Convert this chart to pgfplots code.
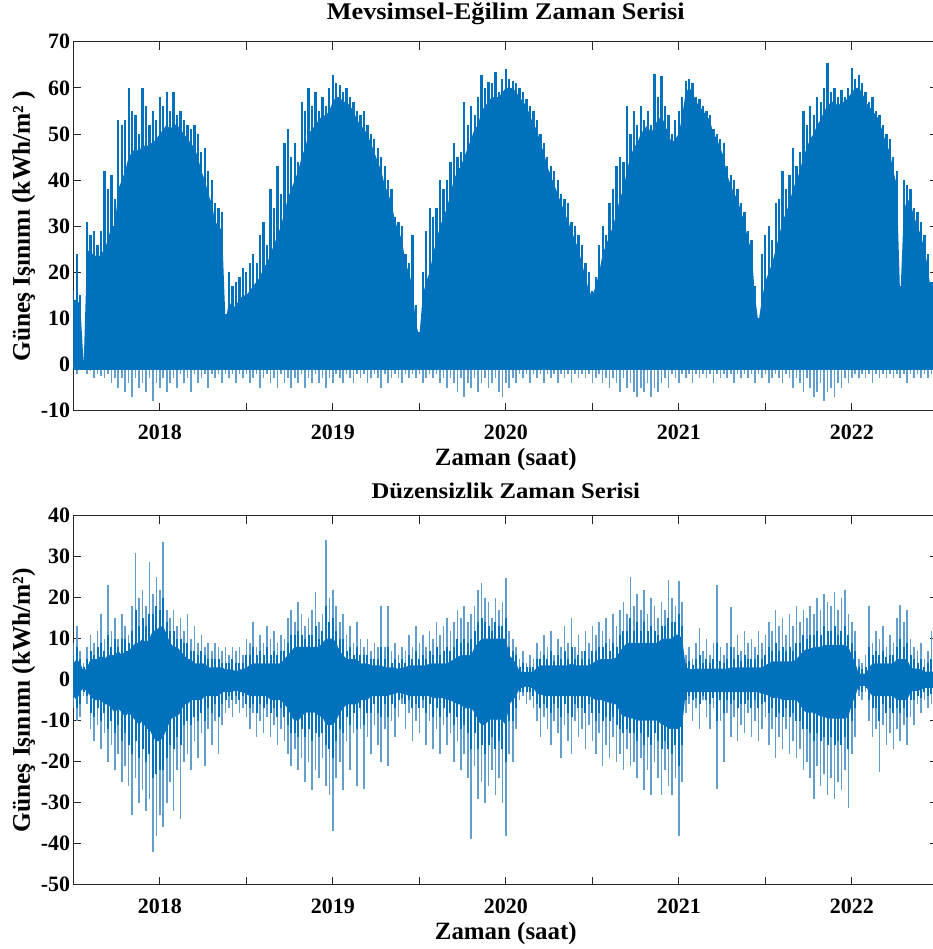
\documentclass[border=0pt]{standalone}
\usepackage{fontspec}
\setmainfont{Liberation Serif}
\newfontfamily\titlefam[FakeStretch=1.1]{Liberation Serif}
\usepackage{pgfplots}
\usepackage{pgfplotstable}
\pgfplotsset{compat=1.18}

\definecolor{mblue}{RGB}{0,114,189}
\definecolor{lblue}{RGB}{98,158,206}
\definecolor{axgray}{RGB}{38,38,38}

% x = (year - 2017) * 100
\pgfplotstableread{
X top core neg
50 16 14 -1
52 24 14 -2
54 15 13 -1
56 1 0 -1
58 31 25 -2
60 28 24 -1.5
62 29 24 -3
64 26 23 -2
66 29 24 -2.5
68 42 25 -3
70 38 27 -2
72 41 30 -4
74 36 30 -3
76 53 38 -5
78 52 40 -3
80 53 42 -6
82 60 45 -4
84 55 46 -7
86 54 47 -3
88 50 46 -5
90 60 48 -4
92 56 47 -6
94 52 48 -3
96 55 48 -8
98 53 49 -4
100 58 50 -5
102 56 51 -3
104 59 52 -6
106 55 51 -4
108 59 52 -3
110 54 52 -5
112 55 51 -2
114 53 50 -4
116 52 49 -3
118 51 48 -6
120 52 47 -2
122 50 45 -4
124 46 42 -3
126 47 40 -2
128 42 37 -5
130 40 35 -2
132 35 31 -3
134 34 30 -2
136 33 29 -4
138 11 9 -2
140 20 14 -3
142 17 12 -2
144 18 13 -4
146 19 14 -2
148 21 15 -3
150 20 15 -2
152 22 16 -4
154 24 17 -3
156 22 18 -2
158 28 19 -5
160 31 21 -3
162 26 22 -2
164 38 24 -4
166 34 26 -3
168 43 28 -5
170 37 30 -2
172 48 33 -4
174 51 36 -3
176 45 38 -5
178 48 40 -3
180 44 42 -4
182 57 45 -2
184 55 47 -5
186 60 50 -3
188 56 51 -4
190 59 52 -2
192 55 53 -4
194 58 54 -3
196 56 54 -5
198 60 55 -3
200 62.8 57 -4
202 61 58 -2
204 60.6 58 -3
206 59 57 -4
208 60 57 -2
210 58 56 -3
212 57 55 -4
214 55 53 -2
216 54 52 -3
218 55 51 -2
220 52 50 -4
222 50 48 -3
224 49 46 -2
226 47 44 -3
228 45 42 -5
230 43 39 -2
232 40 37 -4
234 38 35 -3
236 32 31 -2
238 31 29 -3
240 30 27 -4
242 24 22 -2
244 22 20 -3
246 28 17 -2
248 13 9 -3
250 7 6 -2
252 20 15 -4
254 29 18 -3
256 34 20 -2
258 32 24 -3
260 34 27 -2
262 40 30 -4
264 38 32 -3
266 40 34 -5
268 44 37 -3
270 48 40 -4
272 45 42 -6
274 46 43 -3
276 57 45 -7
278 52 47 -4
280 56 49 -5
282 54 51 -3
284 58 52 -6
286 62.8 55 -4
288 60 56 -3
290 61.3 57 -5
292 61 58 -4
294 63.5 58 -3
296 59 58 -6
298 62 59 -7
300 64 60 -4
302 62 60 -5
304 61.5 60 -3
306 61 59 -4
308 60 58 -2
310 59 57 -3
312 57.5 56 -2
314 56 54 -4
316 55 52 -2
318 53 51 -3
320 50 48 -2
322 48 46 -4
324 45 43 -2
326 43 41 -3
328 42 39 -2
330 40 37 -4
332 37 35 -2
334 36 33 -3
336 35 31 -2
338 31 29 -4
340 30 27 -2
342 28 25 -3
344 26 22 -2
346 22 19 -3
348 20 16 -2
350 16 15 -4
352 19 17 -3
354 26 20 -2
356 30 24 -4
358 28 26 -3
360 35 28 -5
362 38 30 -3
364 43 33 -4
366 45 36 -6
368 44 38 -3
370 56 42 -5
372 50 45 -4
374 55 47 -6
376 52 48 -7
378 56 50 -5
380 53 51 -6
382 55 52 -4
384 52 50 -7
386 63 52 -5
388 58 53 -6
390 62.5 54 -4
392 56 52 -3
394 54 50 -5
396 50 48 -2
398 53 49 -3
400 55 50 -4
402 58 54 -2
404 61.5 59 -3
406 62 60 -2
408 61 59 -4
410 58 57 -2
412 57.5 56 -3
414 56 55 -2
416 55 54 -3
418 54 53 -2
420 51 50 -4
422 50 49 -2
424 49 47 -3
426 48 45 -2
428 43 41 -3
430 41 39 -2
432 40 37 -4
434 38 36 -2
436 35 33 -3
438 33 31 -2
440 29 27 -3
442 27 25 -2
444 17 15 -4
446 10 9 -2
448 24 14 -3
450 28 18 -2
452 30 20 -4
454 27 22 -3
456 35 25 -2
458 36 28 -3
460 42 31 -4
462 38 33 -2
464 41 35 -3
466 47 38 -5
468 43 40 -3
470 46 42 -4
472 55 45 -6
474 52 47 -3
476 56 49 -5
478 54 50 -7
480 58 52 -6
482 57 53 -4
484 60 55 -8
486 65.3 56 -6
488 59 57 -5
490 60 57 -7
492 58 56 -4
494 59.5 57 -5
496 58 57 -3
498 60 58 -4
500 64.2 59 -3
502 62 60 -2
504 62.7 60 -3
506 61 59 -2
508 59 57 -3
510 57 56 -2
512 58 55 -4
514 55 54 -2
516 54 53 -3
518 52 50 -2
520 50 48 -3
522 49 46 -2
524 45 42 -3
526 42 39 -2
528 17 14 -3
530 40 33 -2
532 39 36 -4
534 38 35 -2
536 34 32 -3
538 33 30 -2
540 31 28 -3
542 28 25 -2
544 24 21 -3
546 18 15 -2
548 14 12 -3
550 12 10 -2
}\seasonal

% up/dn: outer spikes, um/dm: darker mid spikes, upc/dnc: dense core
\pgfplotstableread{
X up um upc dnc dm dn
50 9 6 4 -4 -5 -7
52 13 8 5 -5 -7 -10
54 7 5 4 -3 -6 -9
56 4 3 2 -2 -3 -4
58 8 5 3 -3 -4 -6
60 11 7 5 -4 -8 -12
62 9 6 5 -5 -9 -15
64 12 8 5 -5 -7 -11
66 16 9 6 -5 -10 -17
68 10 7 5 -6 -8 -13
70 23 11 6 -6 -12 -20
72 12 8 6 -7 -10 -16
74 15 10 6 -8 -13 -22
76 10 8 7 -7 -11 -18
78 16 10 6 -8 -15 -25
80 13 10 7 -9 -13 -21
82 11 9 7 -8 -16 -26
84 18 12 8 -9 -18 -33
86 31 17 9 -10 -15 -24
88 20 13 9 -11 -19 -30
90 22 15 10 -10 -17 -27
92 18 13 9 -12 -20 -32
94 28.8 16 10 -12 -18 -29
96 21 16 12 -14 -24 -42
98 25 18 12 -15 -23 -38
100 22 17 13 -15 -22 -33
102 33.7 20 13 -14 -22 -36
104 17 14 11 -12 -19 -30
106 15 12 9 -10 -16 -25
108 17 12 8 -9 -17 -32
110 13 10 8 -9 -14 -22
112 15 10 7 -8 -16 -34
114 12 9 6 -6 -11 -20
116 16 9 5 -6 -10 -18
118 10 7 5 -5 -11 -22
120 13 7 4 -5 -9 -15
122 9 6 4 -5 -10 -19
124 11 7 4 -5 -8 -13
126 8 6 4 -4 -10 -21
128 9 5 3 -4 -7 -12
130 7 5 3 -4 -8 -16
132 9 5 3 -4 -6 -10
134 8 5 3 -4 -9 -18
136 7 4 3 -3 -6 -11
138 8 4 2.5 -3 -5 -8
140 6 4 2.5 -3 -4 -7
142 8 5 2.5 -3 -5 -9
144 7 4 2 -2.5 -4 -6
146 8 4 2.5 -3 -5 -8
148 6 4 2.5 -3 -4 -7
150 10 6 3 -3.5 -6 -9
152 9 6 3.5 -4 -7 -12
154 14 8 4 -4 -6 -8
156 8 6 4 -4 -8 -14
158 11 7 4 -4 -6 -10
160 9 6 4 -4 -7 -13
162 13 8 4 -4 -6 -9
164 10 6 4 -5 -8 -14
166 12 7 4 -5 -7 -11
168 9 6 4 -5 -9 -16
170 11 7 4 -5 -7 -12
172 10 7 5 -6 -9 -15
174 15 9 6 -7 -11 -18
176 17 11 7 -9 -13 -21
178 14 11 8 -10 -13 -17
180 19 12 8 -10 -14 -22
182 16 11 8 -9 -12 -19
184 13 10 8 -8 -14 -25
186 15 11 8 -8 -12 -20
188 17 11 8 -8 -15 -27
190 21.5 13 8 -8 -13 -22
192 14 10 8 -9 -14 -24
194 16 12 9 -9 -13 -19
196 34 18 10 -11 -16 -26
198 20 14 10 -11 -17 -28
200 22 15 10 -11 -19 -37
202 18 12 9 -10 -15 -24
204 14 10 7 -8 -12 -20
206 16 10 6 -7 -13 -27
208 11 7 5 -6 -9 -15
210 13 8 5 -6 -11 -22
212 9 6 5 -6 -8 -13
214 14 8 5 -6 -12 -26
216 10 6 4 -5 -7 -12
218 8 6 4 -5 -11 -26.6
220 10 6 4 -5 -8 -14
222 7 5 3.5 -4 -8 -18
224 9 5 3.5 -4 -6 -11
226 8 5 3.5 -4 -8 -16
228 18 8 3.5 -4 -9 -20
230 8 5 3 -4 -6 -12
232 18 8 3 -4 -9 -21
234 7 4 3 -3.5 -6 -10
236 9 5 3 -3.5 -7 -14
238 6 4 2.5 -3 -5 -9
240 8 5 3 -3.5 -4.5 -6
242 7 4 3 -3.5 -6 -12
244 11 6 3.5 -4 -5 -8
246 8 5 3.5 -4 -7 -15
248 13 7 3.5 -4 -6 -10
250 9 5 3.5 -4 -7 -13
252 11 6 3.5 -4 -5 -7
254 8 5 3.5 -4 -8 -16
256 12 7 4 -4 -6 -10
258 10 6 4 -4.5 -9 -17
260 14 8 4 -4.5 -7 -12
262 11 6 4 -4.5 -9 -18
264 13 7 4 -4.5 -7 -11
266 15 8 4 -5 -9 -16
268 12 7 4.5 -5 -8 -13
270 14 8 5 -5.5 -11 -20
272 17 10 5.5 -6 -9 -15
274 15 9 6 -6 -12 -22
276 18 10 6 -7 -11 -18
278 14 9 6 -7 -13 -24
280 16 10 6 -7 -17 -38.8
282 18 12 8 -8 -13 -21
284 22 14 9 -10 -17 -29
286 23.5 15 10 -11 -16 -25
288 20 14 10 -11 -18 -30
290 19 13 10 -10 -16 -26
292 15 12 10 -9.5 -14 -22
294 20 14 10 -10 -17 -28
296 17 13 10 -9.5 -15 -24
298 19 13 10 -10 -17 -30
300 24.7 15 10 -11 -20 -38
302 12 8 6 -6 -10 -18
304 10 7 5 -5 -10 -20
306 8 6 4 -4 -7 -12
308 5 3 2 -2 -3 -5
310 7 4 2 -2 -3 -4
312 4 3 1.8 -1.5 -3 -6
314 6 3 2 -2 -3 -5
316 5 3 2 -2 -4 -7
318 9 5 3 -3.5 -6 -10
320 7 5 3.5 -3.5 -7 -14
322 11 6 3.5 -4 -6 -9
324 8 5 3.5 -4 -7 -12
326 12 7 3.5 -4 -8 -16
328 6 4.5 3.5 -4 -6 -10
330 10 6 3.5 -4 -7 -13
332 8 5 3.5 -4 -9 -19
334 13 7 3.5 -4 -6 -11
336 9 5 3.5 -4 -8 -15
338 15 8 4 -4 -9 -18
340 8 5 3.5 -4 -6 -10
342 11 6 3.5 -4 -7 -14
344 7 5 3.5 -4 -7 -12
346 12 7 3.5 -4 -8 -17
348 9 5 3.5 -4 -6 -11
350 13 7 4 -4.5 -8 -15
352 11 7 4.5 -5 -10 -18
354 14 8 5 -5 -8 -13
356 12 8 5 -5 -10 -21
358 15 9 5 -5.5 -9 -16
360 10 7 5 -5.5 -10 -19
362 16 9 5 -6 -9 -14
364 13 8 5.5 -6 -11 -20
366 17 11 7 -8 -12 -18
368 19 12 8 -9 -13 -22
370 16 12 9 -9 -12 -17
372 25 15 9 -9.5 -13 -21
374 18 12 9 -9.5 -13 -20
376 21 14 9 -10 -15 -24
378 17 12 9 -10 -13 -19
380 22 14 9 -10 -16 -27
382 16 12 9 -10 -14 -22
384 20 13 9 -10 -16 -28
386 18 12 9 -10 -13 -20
388 15 11 9 -10 -15 -24
390 19 13 10 -11 -17 -28
392 17 13 10 -11 -15 -22
394 24.3 15 10 -12 -17 -26
396 20 14 10 -12 -18 -28
398 18 14 11 -12 -16 -24
400 24 16 11 -12 -21 -38
402 19 13 10 -11 -16 -25
404 6 4 3 -3 -5 -8
406 8 4.5 2.7 -3 -4 -6
408 5 3.5 2.5 -3 -5 -10
410 9 5 2.7 -3 -4.5 -7
412 12.5 6 2.7 -3 -6 -12
414 7 4 2.7 -3 -4 -5
416 10 5 2.7 -3 -5 -9
418 6 4 2.7 -3 -6 -12
420 9 5 2.7 -3 -4.5 -7
422 23 9 2.7 -3 -10 -26.6
424 8 4.5 2.7 -3 -5 -10
426 6 4 2.7 -3 -8 -20
428 9 5 2.7 -3 -5 -8
430 17.8 8 3 -3 -6 -14
432 8 5 3 -3 -5 -9
434 11 6 3 -3 -7 -15
436 7 4.5 3 -3 -6 -11
438 12 6 3 -3 -6 -13
440 9 5 3 -3 -5 -8
442 10 5 3 -3 -7 -14
444 8 5 3 -3 -5 -10
446 12 6 3 -3 -7 -15
448 9 5 3 -3.5 -6 -12
450 11 6 3.5 -3.5 -5.5 -9
452 14 8 4 -4 -8 -16
454 12 7 4.5 -4.5 -7 -12
456 17 9 4.5 -4.5 -9 -19
458 13 7 4.5 -4.5 -8 -14
460 15 8 4.5 -5 -9 -17
462 11 7 4.5 -5 -7 -12
464 16 8 4.5 -5 -9 -18
466 13 7 4.5 -5 -8 -15
468 18 9 5 -5 -10 -19
470 14 9 6 -6 -10 -17
472 17 11 7 -7.5 -12 -22
474 15 10 7.5 -8 -12 -20
476 18 11 7.5 -8 -13 -24
478 16 11 8 -8 -15 -29
480 20 12 8 -8.5 -13 -21
482 17 11 8 -9 -15 -26
484 21 13 8.5 -9 -14 -23
486 19 12 8.5 -9.5 -16 -28
488 18 12 8.5 -9.5 -14 -24
490 21.5 13 8.5 -9.5 -16 -29
492 17 11 8.5 -9.5 -15 -25
494 20 12 8.5 -9.5 -16 -27
496 22 13 8.5 -9.5 -14 -22
498 16 11 8 -9 -17 -31.4
500 14 9 6 -6 -10 -18
502 12 7 4 -4 -7 -14
504 5 3 1.5 -1.5 -2.5 -4
506 4 2.5 1.5 -1.5 -3 -5
508 6 3 1.5 -1.5 -2 -3
510 18 8 3 -3 -5 -10
512 9 6 4 -4 -7 -14
514 12 7 4 -4 -7 -12
516 10 6 4 -4 -10 -22.5
518 13 7 4 -4 -6 -11
520 8 5.5 4 -4 -8 -16
522 11 6 4 -4 -7 -13
524 9 6 4 -4 -8 -17
526 15 8 5 -5 -7 -12
528 18.2 10 5 -5 -8 -15
530 14 8 5 -5 -7 -11
532 17 9 5 -5 -9 -16
534 10 6 3 -3 -5 -9
536 8 5 2.7 -2.7 -5 -11
538 7 4 2.7 -2.7 -4 -6
540 9 5 2.5 -2.5 -4.5 -8
542 5 3 2 -2 -3 -5
544 7 4 2 -2 -4 -7
546 12 5 2 -2 -3.5 -6
548 6 3.5 2 -2 -4 -8
550 5 3 2 -2 -3 -4
}\resid

\newcommand\tickfont{\fontsize{22}{22}\selectfont\bfseries}
\newcommand\labfont{\fontsize{25}{25}\selectfont\bfseries}
\newcommand\ylabfont{\fontsize{25.5}{25.5}\selectfont\bfseries}

\pgfplotsset{
  matstyle/.style={
    scale only axis, width=865bp, height=369bp,
    anchor=south west,
    xmin=50, xmax=550,
    xtick={100,200,300,400,500},
    xticklabels={2018,2019,2020,2021,2022},
    minor xtick={50,150,250,350,450,550},
    tick align=inside,
    major tick length=8bp, minor tick length=8bp,
    tick style={axgray, line width=0.8bp},
    axis line style={axgray, line width=1bp},
    /pgf/number format/assume math mode=true,
    ticklabel style={font=\tickfont},
    xticklabel style={anchor=base, yshift=-28.5bp},
    yticklabel style={anchor=east, inner sep=0pt, xshift=-3bp},
    xlabel={Zaman (saat)},
    xlabel style={at={(axis description cs:0.5,0)}, anchor=base, yshift=-54.5bp, font=\labfont},
    ylabel style={at={(axis description cs:-0.0501,0.5)}, anchor=base, font=\ylabfont},
    title style={at={(axis description cs:0.5,1)}, anchor=base},
  }
}

\begin{document}
\begin{tikzpicture}

\begin{axis}[matstyle, at={(73.3bp,538.3bp)},
  ymin=-10, ymax=70, ytick={-10,0,10,20,30,40,50,60,70},
  title={Mevsimsel-Eğilim Zaman Serisi},
  title style={yshift=16bp, font=\fontsize{24}{24}\selectfont\titlefam\bfseries},
  ylabel={Güneş Işınımı (kWh/m² )}]
  \addplot[ycomb, lblue, line width=1.6bp] table[x=X, y=neg] {\seasonal};
  \addplot[draw=none, fill=mblue] coordinates {(50,-1.2) (550,-1.2)} \closedcycle;
  \addplot[draw=none, fill=mblue] table[x=X, y=core] {\seasonal} \closedcycle;
  \addplot[mblue, line width=1.5bp] coordinates {(50,0) (550,0)};
  \addplot[ycomb, mblue, line width=2.3bp] table[x=X, y=top] {\seasonal};
\end{axis}

\begin{axis}[matstyle, at={(73.3bp,64.3bp)},
  ymin=-50, ymax=40, ytick={-50,-40,-30,-20,-10,0,10,20,30,40},
  title={Düzensizlik Zaman Serisi},
  title style={yshift=11bp, font=\fontsize{22.5}{22.5}\selectfont\titlefam\bfseries},
  ylabel={Güneş Işınımı (kWh/m²)}]
  \addplot[ycomb, lblue, line width=1.6bp] table[x=X, y=up] {\resid};
  \addplot[ycomb, lblue, line width=1.6bp] table[x=X, y=dn] {\resid};
  \addplot[ycomb, mblue, line width=2bp] table[x=X, y=um] {\resid};
  \addplot[ycomb, mblue, line width=2bp] table[x=X, y=dm] {\resid};
  \addplot[draw=none, fill=mblue] table[x=X, y=upc] {\resid} \closedcycle;
  \addplot[draw=none, fill=mblue] table[x=X, y=dnc] {\resid} \closedcycle;
  \addplot[mblue, line width=1.5bp] coordinates {(50,0) (550,0)};
\end{axis}

\pgfresetboundingbox
\path[use as bounding box] (0,0) rectangle (933bp,949bp);
\end{tikzpicture}
\end{document}
